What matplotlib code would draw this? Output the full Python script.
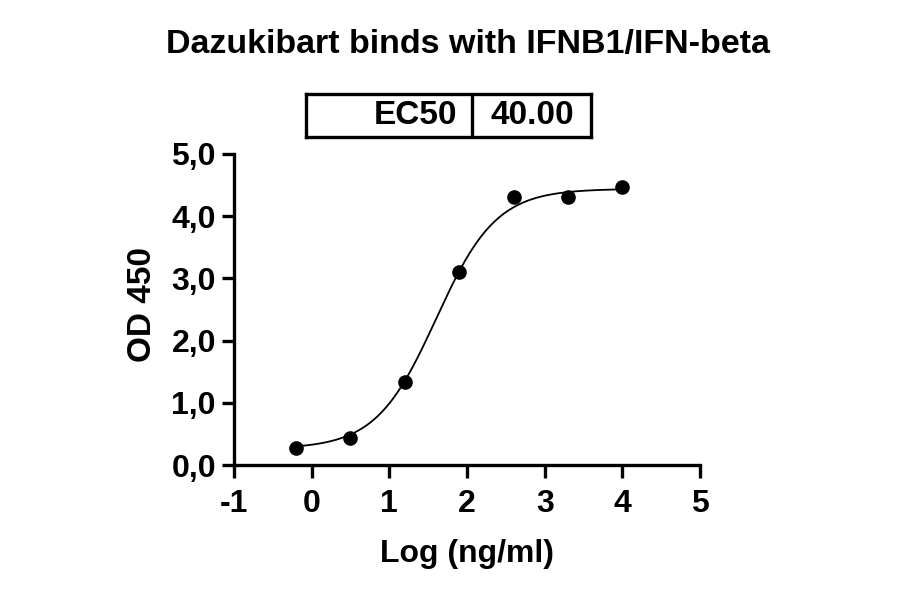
import numpy as np
import matplotlib.pyplot as plt

plt.rcParams['font.family'] = ['Liberation Sans', 'DejaVu Sans']
plt.rcParams['font.weight'] = 'bold'

# 数据点 (log 浓度, OD450)
log_conc = [-0.2, 0.5, 1.2, 1.9, 2.6, 3.3, 4.0]
od450 = [0.28, 0.44, 1.34, 3.11, 4.31, 4.31, 4.47]

# 四参数拟合曲线参数
bottom = 0.26
top = 4.44
log_ec50 = np.log10(40.0)
hill = 1.12
ec50_text = "40.00"

x_ticks = [-1, 0, 1, 2, 3, 4, 5]
y_ticks = [0, 1, 2, 3, 4, 5]
y_tick_labels = ['0,0', '1,0', '2,0', '3,0', '4,0', '5,0']


def four_pl(x):
    return bottom + (top - bottom) / (1 + 10 ** ((log_ec50 - x) * hill))


fig = plt.figure(figsize=(9, 5.94), dpi=100)
ax = fig.add_axes([234 / 900, (594 - 465) / 594, (700 - 234) / 900, (465 - 154) / 594])

xs = np.linspace(min(log_conc), max(log_conc), 300)
ax.plot(xs, four_pl(xs), color='black', lw=1.3)
ax.plot(log_conc, od450, 'o', color='black', ms=9.5)

ax.set_xlim(-1, 5)
ax.set_ylim(0, 5)
ax.set_xticks(x_ticks)
ax.set_xticklabels([str(t) for t in x_ticks])
ax.set_yticks(y_ticks)
ax.set_yticklabels(y_tick_labels)
for s in ['top', 'right']:
    ax.spines[s].set_visible(False)
for s in ['left', 'bottom']:
    ax.spines[s].set_linewidth(2.4)
ax.tick_params(width=2.4, length=9, labelsize=23)
ax.tick_params(axis='y', pad=4)
ax.tick_params(axis='x', pad=8)
ax.set_xlabel('Log (ng/ml)', fontsize=23, fontweight='bold', labelpad=15)
ax.set_ylabel('OD 450', fontsize=24, fontweight='bold')
ax.yaxis.set_label_coords(-0.164, 0.516)

fig.text(468 / 900, 1 - 44 / 594, 'Dazukibart binds with IFNB1/IFN-beta',
         ha='center', va='center', fontsize=24.5, fontweight='bold')

# EC50 表格框
tab = fig.add_axes([306 / 900, (594 - 137) / 594, (591 - 306) / 900, 43 / 594])
tab.set_xlim(306, 591)
tab.set_ylim(0, 1)
tab.set_xticks([])
tab.set_yticks([])
for s in tab.spines.values():
    s.set_linewidth(2.4)
tab.axvline(472, color='black', lw=2.4)
tab.text(457, 0.5, 'EC50', ha='right', va='center', fontsize=24, fontweight='bold')
tab.text(532, 0.5, ec50_text, ha='center', va='center', fontsize=24, fontweight='bold')

fig.savefig('out.png', dpi=100)
